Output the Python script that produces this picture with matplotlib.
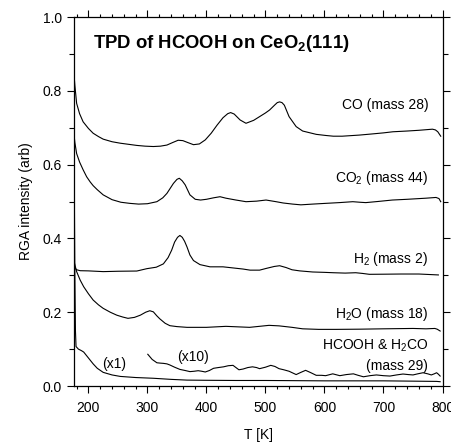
import matplotlib
matplotlib.use("Agg")
import matplotlib.pyplot as plt
from matplotlib.ticker import MultipleLocator

plt.rcParams['font.family'] = ['Liberation Sans', 'DejaVu Sans']
plt.rcParams['mathtext.default'] = 'regular'

# ---- data ----
T_co = [175, 177, 180, 185, 191, 200, 208, 217, 225, 240, 254, 268, 282, 296, 310, 322, 333, 343, 352, 360,
        368, 378, 388, 398, 408, 418, 428, 436, 441, 447, 457, 467, 480, 490, 500, 507, 516, 520, 524, 528,
        532, 540, 552, 563, 586, 602, 615, 630, 659, 680, 700, 716, 740, 760, 783, 788, 792, 797]
co = [0.856, 0.815, 0.766, 0.738, 0.716, 0.698, 0.685, 0.676, 0.669, 0.662, 0.658, 0.655, 0.652, 0.650, 0.649,
      0.650, 0.653, 0.660, 0.666, 0.665, 0.660, 0.654, 0.656, 0.667, 0.685, 0.707, 0.727, 0.738, 0.741, 0.737,
      0.721, 0.712, 0.720, 0.730, 0.740, 0.748, 0.762, 0.768, 0.770, 0.768, 0.761, 0.730, 0.703, 0.691, 0.682,
      0.679, 0.677, 0.677, 0.680, 0.683, 0.686, 0.689, 0.691, 0.693, 0.696, 0.694, 0.689, 0.677]

T_co2 = [175, 177, 180, 185, 191, 197, 203, 208, 215, 225, 240, 255, 270, 285, 300, 316, 326, 333, 344, 350,
         354, 359, 364, 372, 381, 390, 400, 412, 423, 433, 450, 467, 485, 501, 518, 530, 546, 560, 580, 602,
         625, 648, 660, 670, 690, 715, 740, 772, 789, 794, 797]
co2 = [0.690, 0.660, 0.630, 0.607, 0.586, 0.567, 0.553, 0.543, 0.532, 0.518, 0.505, 0.498, 0.495, 0.493, 0.494,
       0.4995, 0.510, 0.522, 0.549, 0.560, 0.563, 0.556, 0.545, 0.518, 0.506, 0.504, 0.506, 0.510, 0.513, 0.509,
       0.504, 0.4995, 0.501, 0.504, 0.4995, 0.496, 0.493, 0.491, 0.493, 0.495, 0.497, 0.4995, 0.498, 0.497,
       0.500, 0.504, 0.506, 0.509, 0.511, 0.508, 0.4995]

T_h2 = [175, 180, 186, 200, 225, 250, 282, 299, 315, 327, 335, 341, 346, 351, 355, 359, 363, 367, 372, 378,
        389, 406, 428, 445, 462, 474, 490, 502, 515, 524, 535, 545, 558, 580, 600, 615, 635, 653, 665, 676,
        700, 730, 760, 780, 793]
h2 = [0.323, 0.315, 0.3125, 0.312, 0.310, 0.311, 0.3116, 0.318, 0.322, 0.331, 0.348, 0.368, 0.390, 0.403, 0.408,
      0.403, 0.392, 0.377, 0.355, 0.340, 0.329, 0.323, 0.323, 0.320, 0.317, 0.314, 0.314, 0.319, 0.324, 0.326,
      0.321, 0.315, 0.312, 0.309, 0.308, 0.307, 0.306, 0.307, 0.305, 0.3027, 0.303, 0.3035, 0.3035, 0.302, 0.301]

T_h2o = [176, 180, 186, 192, 200, 208, 217, 225, 237, 248, 258, 267, 278, 288, 297, 304, 310, 316, 321, 330,
         338, 350, 367, 400, 433, 473, 506, 523, 545, 563, 590, 620, 659, 700, 750, 772, 787, 791, 796]
h2o = [0.335, 0.310, 0.287, 0.269, 0.250, 0.233, 0.220, 0.2105, 0.200, 0.192, 0.187, 0.1834, 0.186, 0.192,
       0.200, 0.204, 0.201, 0.190, 0.182, 0.170, 0.1635, 0.161, 0.159, 0.159, 0.1617, 0.159, 0.1644, 0.163,
       0.159, 0.155, 0.1535, 0.1535, 0.154, 0.155, 0.156, 0.155, 0.156, 0.154, 0.149]

T_m29 = [175, 176, 177, 178, 179, 183, 188, 192, 197, 203, 208, 215, 225, 240, 254, 280, 310, 340, 367, 400,
         450, 500, 600, 700, 790, 796]
m29 = [0.780, 0.550, 0.300, 0.150, 0.107, 0.100, 0.096, 0.092, 0.082, 0.070, 0.060, 0.048, 0.037, 0.030, 0.026,
       0.023, 0.021, 0.018, 0.016, 0.0155, 0.015, 0.015, 0.014, 0.014, 0.0125, 0.0117]

T_m29x10 = [300.6, 308, 316, 322, 327, 333, 338, 346, 355, 364, 372, 379, 386, 392, 398, 405, 412, 420, 429, 437,
            445, 455, 462, 470, 478, 485, 490, 500, 509, 516, 523, 531, 540, 552, 560, 568, 577, 586, 595, 602,
            614, 626, 637, 649, 657, 666, 677, 688, 700, 711, 722, 733, 742, 750, 758, 767, 775, 781, 786, 790,
            793, 796]
m29x10 = [0.086, 0.072, 0.063, 0.062, 0.0614, 0.060, 0.057, 0.051, 0.045, 0.042, 0.039, 0.040, 0.0415, 0.040,
          0.038, 0.042, 0.048, 0.050, 0.052, 0.055, 0.056, 0.044, 0.046, 0.050, 0.052, 0.050, 0.047, 0.051,
          0.056, 0.053, 0.047, 0.044, 0.040, 0.031, 0.037, 0.0425, 0.036, 0.029, 0.029, 0.028, 0.033, 0.028,
          0.031, 0.033, 0.029, 0.025, 0.028, 0.030, 0.028, 0.027, 0.030, 0.0325, 0.031, 0.030, 0.033, 0.036,
          0.033, 0.030, 0.033, 0.036, 0.032, 0.027]

series = [(T_co, co), (T_co2, co2), (T_h2, h2), (T_h2o, h2o), (T_m29, m29), (T_m29x10, m29x10)]

labels = ['CO (mass 28)', 'CO$_2$ (mass 44)', 'H$_2$ (mass 2)', 'H$_2$O (mass 18)',
          'HCOOH & H$_2$CO', '(mass 29)']
label_y = [0.761, 0.563, 0.345, 0.194, 0.110, 0.053]
label_x = 776

title = 'TPD of HCOOH on CeO$_2$(111)'

# ---- figure ----
fig = plt.figure(figsize=(4.52, 4.44), dpi=100)
ax = fig.add_axes([0.163, 0.1306, 0.816, 0.8311])

for T, v in series:
    ax.plot(T, v, color='black', lw=0.8)

ax.set_xlim(175, 800)
ax.set_ylim(0.0, 1.0)

for lab, yy in zip(labels, label_y):
    ax.text(label_x, yy, lab, ha='right', va='center', fontsize=10)

ax.text(243.6, 0.060, '(x1)', ha='center', va='center', fontsize=10)
ax.text(378, 0.079, '(x10)', ha='center', va='center', fontsize=10)

ax.text(208, 0.929, title, ha='left', va='center', fontsize=13.3, fontweight='bold')

ax.set_xlabel('T [K]', fontsize=10, labelpad=9)
ax.set_ylabel('RGA intensity (arb)', fontsize=10, labelpad=7)

ax.xaxis.set_major_locator(MultipleLocator(100))
ax.xaxis.set_minor_locator(MultipleLocator(20))
ax.yaxis.set_major_locator(MultipleLocator(0.2))
ax.yaxis.set_minor_locator(MultipleLocator(0.1))
ax.yaxis.set_major_formatter(matplotlib.ticker.FormatStrFormatter('%.1f'))

ax.tick_params(axis='both', which='both', direction='out', width=0.8, labelsize=10,
               top=True, right=True)
ax.tick_params(axis='both', which='major', length=5, pad=3.5)
ax.tick_params(axis='x', which='major', pad=6)
ax.tick_params(axis='both', which='minor', length=2.5)
ax.tick_params(axis='y', which='minor', right=True, length=3.5)

for s in ax.spines.values():
    s.set_linewidth(0.9)

fig.savefig('out.png', dpi=100)
